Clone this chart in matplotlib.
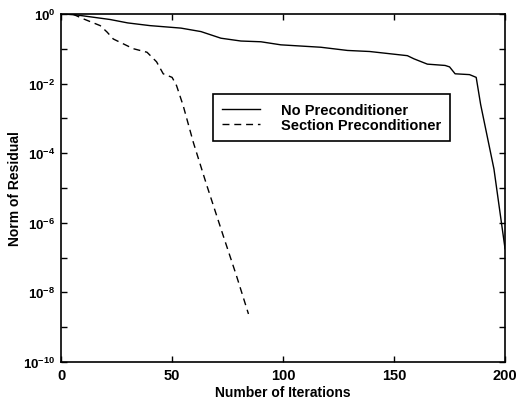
import matplotlib
matplotlib.use("Agg")
import matplotlib.pyplot as plt
from matplotlib.ticker import FixedLocator, NullLocator, NullFormatter

# residual history
iters_none = [0, 7, 22, 30, 40, 54, 63, 72, 81, 90, 99, 117, 129, 139, 156, 159,
              165, 173, 175, 177.5, 184, 187, 189, 195, 200]
res_none = [1.0, 0.93, 0.69, 0.55, 0.46, 0.39, 0.31, 0.20, 0.166, 0.158, 0.129,
            0.11, 0.089, 0.083, 0.063, 0.051, 0.036, 0.033, 0.030, 0.019, 0.018,
            0.015, 2.5e-3, 3.5e-5, 1.8e-7]

iters_sect = [0, 5, 10, 17.6, 20.7, 23.5, 32.5, 38.7, 43, 46, 50, 52, 55, 59.6,
              65.6, 73, 79, 84.4]
res_sect = [1.0, 1.0, 0.72, 0.46, 0.30, 0.19, 0.10, 0.079, 0.042, 0.019, 0.015,
            8.7e-3, 2.3e-3, 2.0e-4, 1.2e-5, 4.3e-7, 3.0e-8, 2.4e-9]

xticks = [0, 50, 100, 150, 200]
ytick_exp = [0, -2, -4, -6, -8, -10]

plt.rcParams.update({
    "font.family": "Liberation Sans",
    "font.size": 10,
    "mathtext.fontset": "custom",
    "mathtext.rm": "Liberation Sans",
    "mathtext.it": "Liberation Sans",
    "mathtext.bf": "Liberation Sans:bold",
})

fig = plt.figure(figsize=(5.18, 4.02), dpi=100)
ax = fig.add_axes([0.118, 0.097, 0.857, 0.866])

ax.semilogy(iters_none, res_none, color="black", lw=1.0, label="No Preconditioner")
ax.semilogy(iters_sect, res_sect, color="black", lw=1.0, linestyle=(0, (5, 3.5)),
            label="Section Preconditioner")

ax.set_xlim(0, 200)
ax.set_ylim(1e-10, 1)
ax.set_xticks(xticks)
ax.set_xticklabels([str(t) for t in xticks], fontweight="bold")
ax.yaxis.set_major_locator(FixedLocator([10.0 ** e for e in ytick_exp]))
ax.set_yticklabels([r"$\mathbf{10^{%d}}$" % e for e in ytick_exp])
ax.yaxis.set_minor_locator(FixedLocator([10.0 ** e for e in range(-9, 0, 2)]))
ax.yaxis.set_minor_formatter(NullFormatter())
ax.xaxis.set_minor_locator(NullLocator())
ax.tick_params(which="both", direction="in", top=True, right=True,
               length=4, width=1.0)
ax.tick_params(axis="x", which="major", labelsize=10.5, pad=4)
ax.tick_params(axis="y", which="major", labelsize=9.5, pad=4)

for s in ax.spines.values():
    s.set_linewidth(1.2)

ax.set_xlabel("Number of Iterations", fontweight="bold", fontsize=10)
ax.set_ylabel("Norm of Residual", fontweight="bold", fontsize=10)
ax.xaxis.set_label_coords(0.5, -0.066)
ax.yaxis.set_label_coords(-0.088, 0.5)

leg = ax.legend(loc="upper left", bbox_to_anchor=(0.342, 0.770),
                borderaxespad=0, fancybox=False, edgecolor="black",
                framealpha=1.0, handlelength=2.6, handletextpad=1.5,
                borderpad=0.6, labelspacing=0.12,
                prop={"size": 10.5, "weight": "bold"})
leg.get_frame().set_linewidth(1.2)

fig.savefig("out.png", dpi=100)
